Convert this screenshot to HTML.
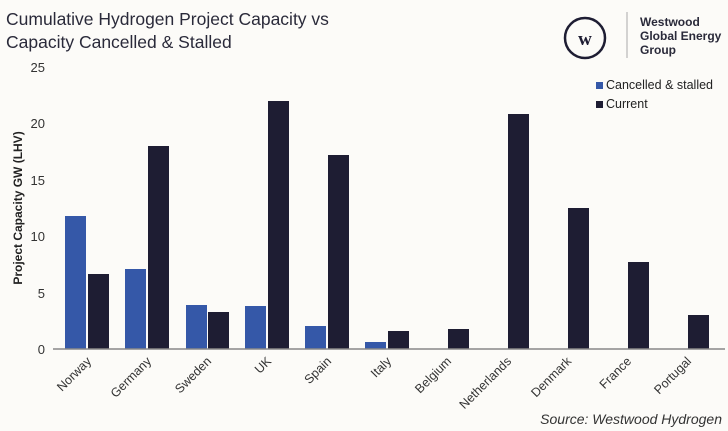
<!DOCTYPE html>
<html><head><meta charset="utf-8"><style>
html,body{margin:0;padding:0;background:#fcfbf8;}
svg{display:block;font-family:"Liberation Sans",sans-serif;}
</style></head><body>
<svg width="728" height="431" viewBox="0 0 728 431" xmlns="http://www.w3.org/2000/svg">
<rect width="728" height="431" fill="#fcfbf8"/>
<text x="6" y="25" font-size="17.5" fill="#2a2a3a">Cumulative Hydrogen Project Capacity vs</text>
<text x="6" y="48" font-size="17.5" fill="#2a2a3a">Capacity Cancelled &amp; Stalled</text>
<circle cx="585" cy="38" r="20" fill="none" stroke="#1e1d33" stroke-width="2.5"/>
<text x="585" y="45" font-size="19" font-weight="bold" fill="#1e1d33" text-anchor="middle" font-family="Liberation Serif,serif">w</text>
<line x1="627" y1="12" x2="627" y2="58" stroke="#aaa" stroke-width="1"/>
<text x="640" y="26" font-size="12" font-weight="bold" fill="#2a2a3a">Westwood</text>
<text x="640" y="40" font-size="12" font-weight="bold" fill="#2a2a3a">Global Energy</text>
<text x="640" y="54" font-size="12" font-weight="bold" fill="#2a2a3a">Group</text>
<rect x="596" y="82" width="7" height="7" fill="#3558a8"/>
<text x="606" y="89" font-size="12.5" fill="#222">Cancelled &amp; stalled</text>
<rect x="596" y="101" width="7" height="7" fill="#1e1d33"/>
<text x="606" y="108" font-size="12.5" fill="#222">Current</text>
<g font-size="13" fill="#333" text-anchor="end">
<text x="45" y="354">0</text><text x="45" y="298">5</text><text x="45" y="241">10</text>
<text x="45" y="185">15</text><text x="45" y="128">20</text><text x="45" y="72">25</text>
</g>
<text transform="translate(22,208) rotate(-90)" font-size="12" font-weight="bold" fill="#222" text-anchor="middle">Project Capacity GW (LHV)</text>
<g fill="#3558a8">
<rect x="65" y="216" width="21" height="133"/>
<rect x="125" y="269" width="21" height="80"/>
<rect x="186" y="305" width="21" height="44"/>
<rect x="245" y="306" width="21" height="43"/>
<rect x="305" y="326" width="21" height="23"/>
<rect x="365" y="342" width="21" height="7"/>
</g>
<g fill="#1e1d33">
<rect x="88" y="274" width="21" height="75"/>
<rect x="148" y="146" width="21" height="203"/>
<rect x="208" y="312" width="21" height="37"/>
<rect x="268" y="101" width="21" height="248"/>
<rect x="328" y="155" width="21" height="194"/>
<rect x="388" y="331" width="21" height="18"/>
<rect x="448" y="329" width="21" height="20"/>
<rect x="508" y="114" width="21" height="235"/>
<rect x="568" y="208" width="21" height="141"/>
<rect x="628" y="262" width="21" height="87"/>
<rect x="688" y="315" width="21" height="34"/>
</g>
<line x1="53" y1="349" x2="725" y2="349" stroke="#888" stroke-width="1.5"/>
<g font-size="12.5" fill="#333" text-anchor="end">
<text transform="translate(92,362) rotate(-45)">Norway</text>
<text transform="translate(152,362) rotate(-45)">Germany</text>
<text transform="translate(212,362) rotate(-45)">Sweden</text>
<text transform="translate(272,362) rotate(-45)">UK</text>
<text transform="translate(332,362) rotate(-45)">Spain</text>
<text transform="translate(392,362) rotate(-45)">Italy</text>
<text transform="translate(452,362) rotate(-45)">Belgium</text>
<text transform="translate(512,362) rotate(-45)">Netherlands</text>
<text transform="translate(572,362) rotate(-45)">Denmark</text>
<text transform="translate(632,362) rotate(-45)">France</text>
<text transform="translate(692,362) rotate(-45)">Portugal</text>
</g>
<text x="722" y="424" font-size="14" font-style="italic" fill="#333" text-anchor="end">Source: Westwood Hydrogen</text>
</svg>
</body></html>
